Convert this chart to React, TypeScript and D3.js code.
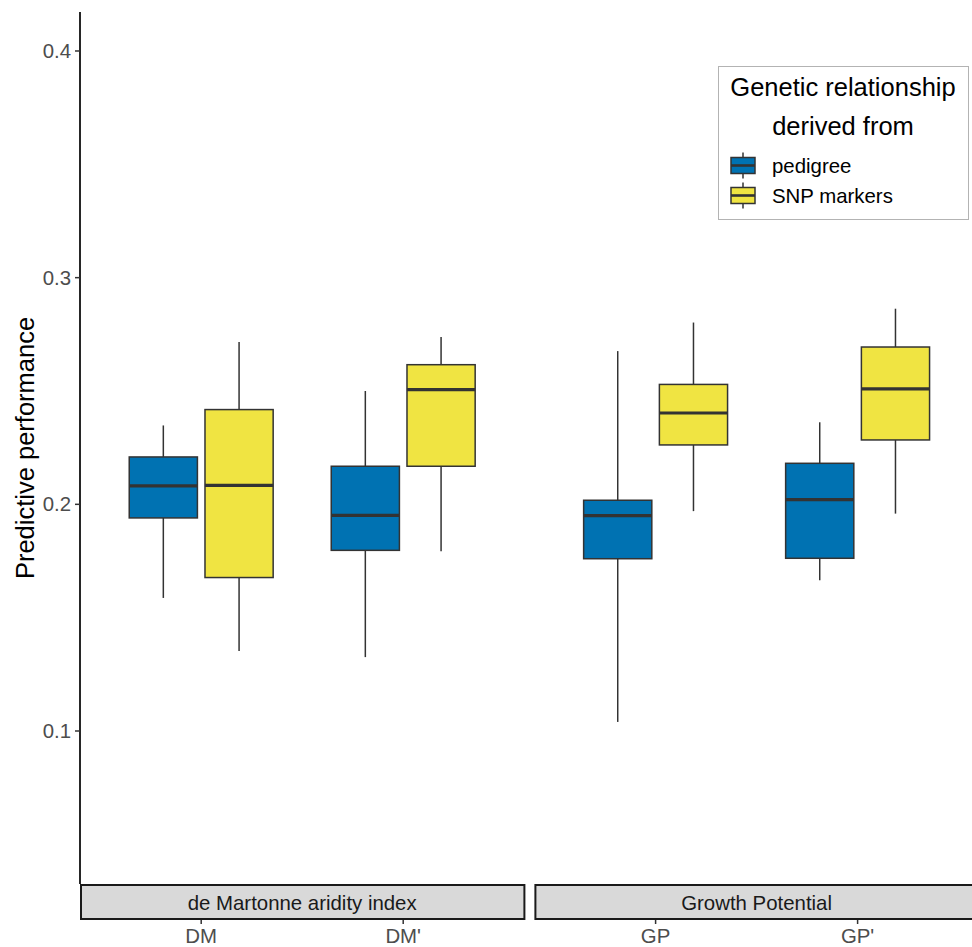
import React from "react";
import * as d3 from "d3";

// Categories and facets
const facets = ["de Martonne aridity index", "Growth Potential"];
const categories = [
  ["DM", "DM'"],
  ["GP", "GP'"],
];
const seriesNames = ["pedigree", "SNP markers"];
const seriesColors = ["#0072B2", "#F0E442"];

// Box statistics per category: [lower whisker, Q1, median, Q3, upper whisker]
const pedigreeStats = [
  [0.1587, 0.194, 0.2081, 0.2209, 0.2348],
  [0.1326, 0.1797, 0.1951, 0.2168, 0.25],
  [0.104, 0.176, 0.195, 0.2018, 0.2676],
  [0.1665, 0.1762, 0.2021, 0.2181, 0.2362],
];
const snpStats = [
  [0.1353, 0.1677, 0.2084, 0.2418, 0.2716],
  [0.1793, 0.2168, 0.2506, 0.2616, 0.2738],
  [0.197, 0.2262, 0.2403, 0.2529, 0.2802],
  [0.1959, 0.2284, 0.2509, 0.2694, 0.2863],
];
const yTicks = [0.1, 0.2, 0.3, 0.4];

const W = 972;
const H = 947;
const panelTop = 12;
const panelBottom = 884;
const panelLeft = 80;
const panelWidth = 444.4;
const panelGap = 10;
const stripH = 35;

const font = "'Liberation Sans', Arial, Helvetica, sans-serif";

export default function App() {
  const y = d3.scaleLinear().domain([0.0325, 0.4172]).range([panelBottom, panelTop]);
  const allStats = [pedigreeStats, snpStats];

  const panels = facets.map((f, fi) => {
    const x0 = panelLeft + fi * (panelWidth + panelGap);
    const x = d3.scaleLinear().domain([0.4, 2.6]).range([x0, x0 + panelWidth]);
    return { f, fi, x0, x };
  });

  const unit = panels[0].x(2) - panels[0].x(1);
  const boxW = 0.3375 * unit;
  const dodge = 0.1875 * unit;
  const lw = 1.5;

  return (
    <svg
      width={W}
      height={H}
      style={{ position: "absolute", left: 0, top: 0, background: "#fff" }}
      fontFamily={font}
    >
      {/* y axis */}
      <line x1={panelLeft} x2={panelLeft} y1={panelTop} y2={panelBottom} stroke="#000" strokeWidth={1.7} />
      {yTicks.map((t) => (
        <g key={t}>
          <line x1={panelLeft - 5} x2={panelLeft} y1={y(t)} y2={y(t)} stroke="#333" strokeWidth={lw} />
          <text x={panelLeft - 9} y={y(t)} dy="0.35em" textAnchor="end" fontSize={20.4} fill="#4d4d4d">
            {t.toFixed(1)}
          </text>
        </g>
      ))}
      <text
        transform={`translate(34, ${(panelTop + panelBottom) / 2}) rotate(-90)`}
        textAnchor="middle"
        fontSize={25.5}
        fill="#000"
      >
        Predictive performance
      </text>

      {panels.map(({ f, fi, x0, x }) => (
        <g key={f}>
          {categories[fi].map((c, ci) => {
            const idx = fi * 2 + ci;
            const cx = x(ci + 1);
            return (
              <g key={c}>
                {allStats.map((stats, si) => {
                  const [lo, q1, med, q3, hi] = stats[idx];
                  const bx = cx + (si === 0 ? -dodge : dodge);
                  return (
                    <g key={si}>
                      <line x1={bx} x2={bx} y1={y(hi)} y2={y(q3)} stroke="#333" strokeWidth={lw} />
                      <line x1={bx} x2={bx} y1={y(q1)} y2={y(lo)} stroke="#333" strokeWidth={lw} />
                      <rect
                        x={bx - boxW / 2}
                        y={y(q3)}
                        width={boxW}
                        height={y(q1) - y(q3)}
                        fill={seriesColors[si]}
                        stroke="#333"
                        strokeWidth={lw}
                      />
                      <line
                        x1={bx - boxW / 2}
                        x2={bx + boxW / 2}
                        y1={y(med)}
                        y2={y(med)}
                        stroke="#333"
                        strokeWidth={3.2}
                      />
                    </g>
                  );
                })}
                {/* x tick + label below strip */}
                <line
                  x1={cx}
                  x2={cx}
                  y1={panelBottom + stripH}
                  y2={panelBottom + stripH + 5}
                  stroke="#333"
                  strokeWidth={lw}
                />
                <text x={cx} y={943} textAnchor="middle" fontSize={20.4} fill="#4d4d4d">
                  {c}
                </text>
              </g>
            );
          })}
          {/* facet strip */}
          <rect
            x={x0 + 1}
            y={panelBottom + 1}
            width={panelWidth - 1 + (fi === 1 ? 10 : 0)}
            height={stripH - 1}
            fill="#d9d9d9"
            stroke="#1a1a1a"
            strokeWidth={2}
          />
          <text
            x={x0 + panelWidth / 2}
            y={panelBottom + stripH / 2 + 1}
            dy="0.35em"
            textAnchor="middle"
            fontSize={20.4}
            fill="#1a1a1a"
          >
            {f}
          </text>
        </g>
      ))}

      {/* legend */}
      <g>
        <rect x={718.5} y={66.5} width={250} height={153} fill="#fff" stroke="#b3b3b3" strokeWidth={1} />
        <text x={843} y={96} textAnchor="middle" fontSize={25.5} fill="#000">
          Genetic relationship
        </text>
        <text x={843} y={135} textAnchor="middle" fontSize={25.5} fill="#000">
          derived from
        </text>
        {seriesNames.map((s, i) => {
          const cy = 165.5 + i * 30;
          const kx = 743;
          return (
            <g key={s}>
              <line x1={kx} x2={kx} y1={cy - 13} y2={cy + 13} stroke="#333" strokeWidth={lw} />
              <rect x={kx - 12} y={cy - 8} width={24} height={16} fill={seriesColors[i]} stroke="#333" strokeWidth={lw} />
              <line x1={kx - 12} x2={kx + 12} y1={cy} y2={cy} stroke="#333" strokeWidth={2.6} />
              <text x={772} y={cy} dy="0.35em" fontSize={20.4} fill="#000">
                {s}
              </text>
            </g>
          );
        })}
      </g>
    </svg>
  );
}
